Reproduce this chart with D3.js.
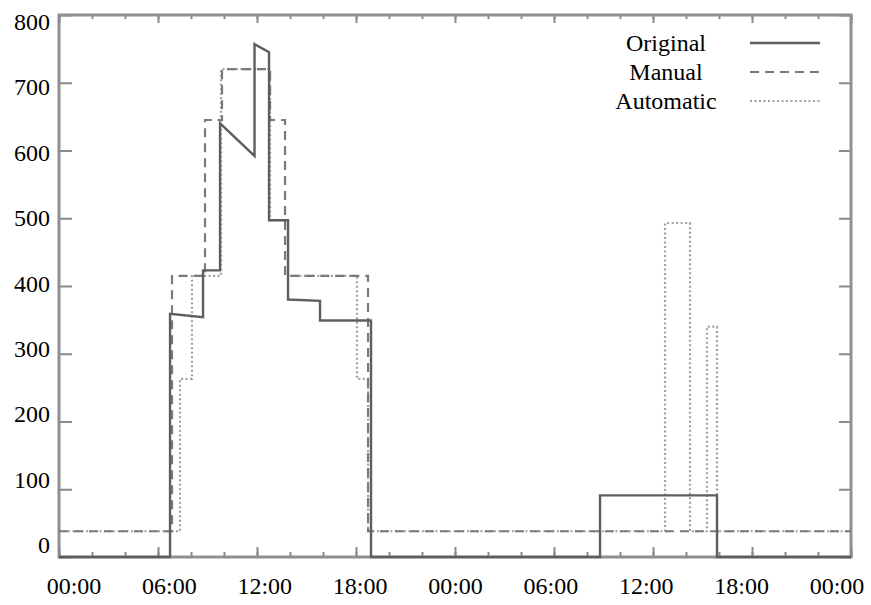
<!DOCTYPE html>
<html>
<head>
<meta charset="utf-8">
<script src="https://cdn.jsdelivr.net/npm/d3@7"></script>
<style>
  body { margin: 0; background: #fff; }
  #chart text { font-family: serif; }
</style>
</head>
<body>
<svg id="chart" width="871" height="605"></svg>
<script>
// values, x in hours from the first midnight
const seriesNames = ['Original', 'Manual', 'Automatic']

const originalHours  = [0, 6.73, 6.73, 8.73, 8.73, 9.76, 9.76, 11.85, 11.85, 12.73, 12.73, 13.88, 13.88, 15.82, 15.82, 18.91, 18.91, 32.79, 32.79, 39.88, 39.88, 48]
const originalValues = [0, 0, 359, 354, 423, 423, 640, 592, 757, 745, 497, 497, 380, 378, 349, 349, 0, 0, 91, 91, 0, 0]

const manualHours  = [0, 6.85, 6.85, 8.85, 8.85, 9.88, 9.88, 12.79, 12.79, 13.70, 13.70, 18.73, 18.73, 48]
const manualValues = [38, 38, 415, 415, 645, 645, 720, 720, 645, 645, 415, 415, 38, 38]

const automaticHours  = [0, 7.33, 7.33, 8.06, 8.06, 9.82, 9.82, 12.79, 12.79, 13.88, 13.88, 18.06, 18.06, 18.73, 18.73, 36.73, 36.73, 38.24, 38.24, 39.27, 39.27, 39.88, 39.88, 48]
const automaticValues = [38, 38, 263, 263, 415, 415, 720, 720, 497, 497, 415, 415, 263, 263, 38, 38, 493, 493, 38, 38, 340, 340, 38, 38]

const xTickLabels = ['00:00', '06:00', '12:00', '18:00', '00:00', '06:00', '12:00', '18:00', '00:00']
const yTickValues = [0, 100, 200, 300, 400, 500, 600, 700, 800]

const svg = d3.select('#chart')
const margin = {top: 15, right: 20, bottom: 48, left: 59}
const width = 871, height = 605
const innerWidth = width - margin.left - margin.right
const innerHeight = height - margin.top - margin.bottom

const xScale = d3.scaleLinear().domain([0, 48]).range([0, innerWidth])
const yScale = d3.scaleLinear().domain([0, 800]).range([innerHeight, 0])
// the printed labels sit a little off the tick marks in the original
const xLabelScale = d3.scaleLinear().domain([0, 48]).range([15, 778])
const yLabelScale = d3.scaleLinear().domain([0, 800]).range([538, 15])

const g = svg.append('g').attr('transform', `translate(${margin.left},${margin.top})`)

g.append('clipPath').attr('id', 'clip')
  .append('rect').attr('x', -2).attr('y', -2).attr('width', innerWidth + 4).attr('height', innerHeight + 4)

const minorHours = d3.range(0, 49, 2)
const majorHours = d3.range(0, 49, 6)

function tickAxis(axis, transform) {
  const a = g.append('g').attr('transform', transform).call(axis)
  a.select('.domain').remove()
  a.selectAll('text').remove()
  a.selectAll('line').attr('stroke', '#8a8a8a').attr('stroke-width', 2)
  return a
}

// bottom / top ticks pointing inward
tickAxis(d3.axisBottom(xScale).tickValues(minorHours).tickSize(-5), `translate(0,${innerHeight})`)
tickAxis(d3.axisBottom(xScale).tickValues(majorHours).tickSize(-10), `translate(0,${innerHeight})`)
tickAxis(d3.axisTop(xScale).tickValues(minorHours).tickSize(-4), 'translate(0,0)')
tickAxis(d3.axisTop(xScale).tickValues(majorHours).tickSize(-8), 'translate(0,0)')
// left / right ticks
tickAxis(d3.axisLeft(yScale).tickValues(yTickValues).tickSize(-13), 'translate(0,0)')
tickAxis(d3.axisRight(yScale).tickValues(yTickValues).tickSize(-12), `translate(${innerWidth},0)`)

// frame
g.append('rect')
  .attr('width', innerWidth)
  .attr('height', innerHeight)
  .attr('fill', 'none')
  .attr('stroke', '#8f8f8f')
  .attr('stroke-width', 3)

// tick labels
g.append('g').selectAll('text')
  .data(xTickLabels)
  .join('text')
  .attr('x', (d, i) => xLabelScale(i * 6))
  .attr('y', innerHeight + 37)
  .attr('text-anchor', 'middle')
  .attr('font-size', 24)
  .attr('fill', '#000')
  .text(d => d)

g.append('g').selectAll('text')
  .data(yTickValues)
  .join('text')
  .attr('x', -9)
  .attr('y', d => yLabelScale(d))
  .attr('text-anchor', 'end')
  .attr('font-size', 24)
  .attr('fill', '#000')
  .text(d => d)

// series
const styles = {
  Original:  {stroke: '#5e5e5e', width: 2.4, dash: null},
  Manual:    {stroke: '#7a7a7a', width: 2.2, dash: '9,6'},
  Automatic: {stroke: '#a0a0a0', width: 2.2, dash: '2,2.5'}
}
const series = {
  Original:  d3.zip(originalHours, originalValues),
  Manual:    d3.zip(manualHours, manualValues),
  Automatic: d3.zip(automaticHours, automaticValues)
}

const line = d3.line()
  .x(d => xScale(d[0]))
  .y(d => yScale(d[1]))

const plot = g.append('g').attr('clip-path', 'url(#clip)')
;['Automatic', 'Manual', 'Original'].forEach(name => {
  plot.append('path')
    .datum(series[name])
    .attr('fill', 'none')
    .attr('stroke', styles[name].stroke)
    .attr('stroke-width', styles[name].width)
    .attr('stroke-dasharray', styles[name].dash)
    .attr('d', line)
})

// legend
const legend = svg.append('g')
seriesNames.forEach((name, i) => {
  const yy = 43 + i * 29
  legend.append('text')
    .attr('x', 666)
    .attr('y', yy + 8)
    .attr('text-anchor', 'middle')
    .attr('font-size', 24)
    .attr('fill', '#000')
    .text(name)
  legend.append('line')
    .attr('x1', 750).attr('x2', 820)
    .attr('y1', yy).attr('y2', yy)
    .attr('stroke', styles[name].stroke)
    .attr('stroke-width', styles[name].width)
    .attr('stroke-dasharray', styles[name].dash)
})
</script>
</body>
</html>
